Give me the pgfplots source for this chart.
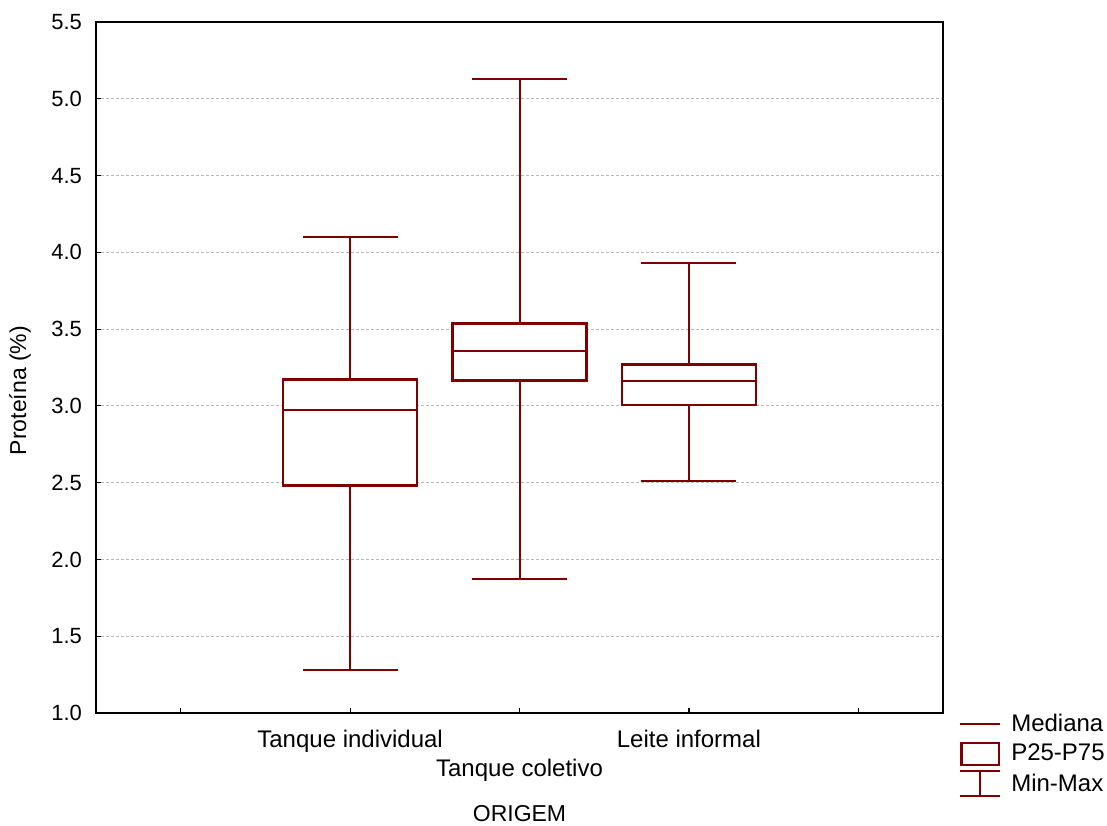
\documentclass[border=0pt]{standalone}
\usepackage{fontspec}
\setmainfont{Liberation Sans}
\usepackage{pgfplots}
\pgfplotsset{compat=1.18}
\usepgfplotslibrary{statistics}
\definecolor{boxred}{RGB}{128,0,0}
\begin{document}
\begin{tikzpicture}
\path[use as bounding box] (-48pt,-56pt) rectangle (505.5pt,356.5pt);
\begin{axis}[
  at={(0,0)}, anchor=south west,
  scale only axis, width=423.5pt, height=345.5pt,
  xmin=-0.5, xmax=4.5, ymin=1.0, ymax=5.5,
  xtick={0,1,2,3,4},
  xticklabels={{},{Tanque individual},{\raisebox{-23pt}{Tanque coletivo}},{Leite informal},{}},
  ytick={1.0,1.5,...,5.5},
  /pgf/number format/fixed, /pgf/number format/fixed zerofill, /pgf/number format/precision=1,
  /pgf/number format/assume math mode=true,
  tick align=inside, tick pos=left, major tick length=2.5pt,
  tick style={black, line width=0.6pt},
  axis line style={black, line width=0.9pt},
  ymajorgrids, grid style={dash pattern=on 1.5pt off 1pt, gray!55, line width=0.4pt},
  font=\fontsize{11.5pt}{13pt}\selectfont,
  xticklabel style={font=\fontsize{12pt}{13pt}\selectfont, yshift=-5pt},
  yticklabel style={font=\fontsize{11pt}{13pt}\selectfont, xshift=-3.5pt},
  xlabel={ORIGEM}, ylabel={Proteína (\%)},
  xlabel style={at={(axis description cs:0.5,0)}, anchor=center, yshift=-50.5pt},
  ylabel style={at={(axis description cs:0,0.5)}, anchor=center, yshift=38pt, xshift=-11.5pt},
  boxplot/draw direction=y,
  boxplot/every box/.style={draw=boxred, line width=1.3pt, fill=white},
  boxplot/every whisker/.style={draw=boxred, line width=1.0pt},
  boxplot/every median/.style={draw=boxred, line width=1.0pt},
  legend style={at={(rel axis cs:1.0184,0.0055)}, anchor=north west, draw=none, fill=none,
    font=\fontsize{12pt}{13pt}\selectfont, row sep=1pt, inner sep=0pt,
    cells={anchor=west}},
  legend cell align=left,
]
\addplot[boxred, forget plot, boxplot prepared={draw position=1, lower whisker=1.28, lower quartile=2.48, median=2.97, upper quartile=3.17, upper whisker=4.10, box extend=0.79, whisker extend=0.56}] coordinates {};
\addplot[boxred, forget plot, boxplot prepared={draw position=2, lower whisker=1.87, lower quartile=3.165, median=3.36, upper quartile=3.535, upper whisker=5.13, box extend=0.79, whisker extend=0.56}] coordinates {};
\addplot[boxred, forget plot, boxplot prepared={draw position=3, lower whisker=2.51, lower quartile=3.005, median=3.165, upper quartile=3.27, upper whisker=3.93, box extend=0.79, whisker extend=0.56}] coordinates {};
\addlegendimage{boxred, line width=1pt, legend image code/.code={\draw[boxred, line width=1pt] (0pt,0pt) -- (20pt,0pt); \path (22.85pt,0pt);}}
\addlegendentry{Mediana}
\addlegendimage{boxred, line width=1.3pt, legend image code/.code={\path (0pt,0pt) (22.85pt,0pt); \draw[boxred, line width=1.3pt] (0.6pt,-5.5pt) rectangle (19.4pt,5.5pt);}}
\addlegendentry{P25-P75}
\addlegendimage{boxred, line width=1pt, legend image code/.code={\draw[boxred, line width=1pt] (0pt,6.25pt) -- (20pt,6.25pt) (10pt,6.25pt) -- (10pt,-6.25pt) (0pt,-6.25pt) -- (20pt,-6.25pt); \path (22.85pt,0pt);}}
\addlegendentry{Min-Max}
\end{axis}
\end{tikzpicture}
\end{document}
